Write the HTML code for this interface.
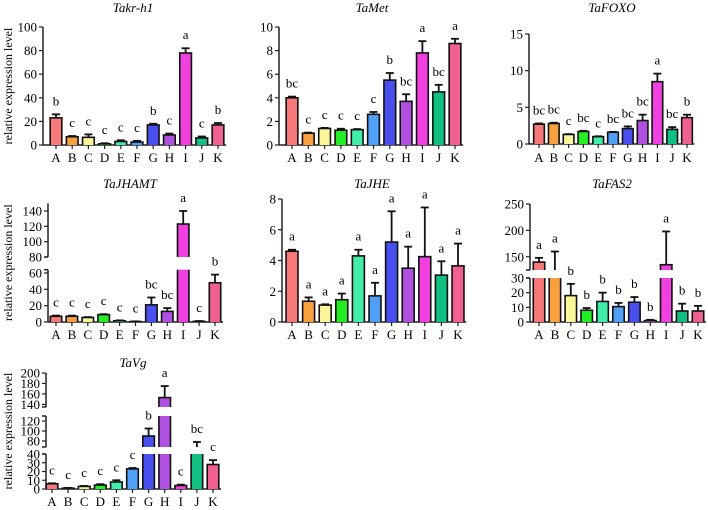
<!DOCTYPE html>
<html><head><meta charset="utf-8"><style>
body{margin:0;background:#fff;}
svg{display:block;}
text{font-family:"Liberation Serif","DejaVu Serif",serif;font-weight:400;}
</style></head><body>
<svg id="c" width="708" height="510" viewBox="0 0 708 510"></svg>
<script>
const categories=["A","B","C","D","E","F","G","H","I","J","K"];
const colors=["#f77878","#f8a040","#fbf59a","#22ee22","#40eea8","#50a0f8","#4a50f0","#b050e0","#f040e0","#10c080","#f06090"];
const titles=["Takr-h1","TaMet","TaFOXO","TaJHAMT","TaJHE","TaFAS2","TaVg"];
const takrVals=[23,7,6.5,1,3,2.5,17,8.5,78,6,17];
const takrErr=[26,7.6,9,1.5,4,3.5,18,9.7,82,7.2,18.6];
const takrLet=["b","c","c","c","c","c","b","c","a","c","b"];
const metVals=[4,1,1.4,1.25,1.3,2.6,5.5,3.7,7.8,4.5,8.6];
const metErr=[4.1,1.05,1.45,1.38,1.35,2.8,6.1,4.3,8.8,5.1,9.0];
const metLet=["bc","c","c","c","c","c","b","bc","a","bc","a"];
const foxoVals=[2.7,2.8,1.3,1.7,1.0,1.6,2.1,3.2,8.5,2.0,3.6];
const foxoErr=[2.8,2.9,1.35,1.8,1.05,1.65,2.4,4.0,9.6,2.3,4.0];
const foxoLet=["bc","bc","c","bc","c","bc","bc","bc","a","bc","b"];
const jhamtVals=[7,7,5.5,9,1.5,0.5,21,13,123,0.8,48];
const jhamtErr=[7.8,7.8,6,9.6,2,0.8,30,17,140,1.2,58];
const jhamtLet=["c","c","c","c","c","c","bc","bc","a","c","b"];
const jheVals=[4.6,1.35,1.1,1.45,4.3,1.7,5.2,3.5,4.25,3.05,3.65];
const jheErr=[4.7,1.6,1.15,1.85,4.7,2.55,7.2,4.9,7.45,3.95,5.1];
const jheLet=["a","a","a","a","a","a","a","a","a","a","a"];
const fasVals=[140,125,18,8,14,10.5,13.5,1,135,7.5,7.5];
const fasErr=[148,160,26,9.5,20,13,17,1.5,198,12.5,11];
const fasLet=["a","a","b","b","b","b","b","b","a","b","b"];
const vgVals=[6,1,3,4.5,8,23,90,153,4,65,28];
const vgErr=[6.5,1.3,3.5,5.5,10,24,105,175,5,78,33];
const vgLet=["c","c","c","c","c","c","b","a","c","bc","c"];
const tickTakr=[0,20,40,60,80,100];
const tickMet=[0,2,4,6,8,10];
const tickFoxo=[0,5,10,15];
const tickJhamtLo=[0,20,40,60];
const tickJhamtHi=[80,100,120,140];
const tickJhe=[0,2,4,6,8];
const tickFasLo=[0,10,20,30];
const tickFasHi=[150,200,250];
const tickVgLo=[0,10,20,30,40];
const tickVgMid=[80,100,120];
const tickVgHi=[140,160,180,200];

const panels=[
 {t:0,ax:43,x0:56,x1:218,tx:133,ty:12,lab:162,ylab:true,vals:takrVals,err:takrErr,let:takrLet,segs:[{lo:0,hi:100,yb:145,yt:27,ticks:tickTakr}]},
 {t:1,ax:279,x0:292,x1:455,tx:372,ty:12,lab:162,vals:metVals,err:metErr,let:metLet,segs:[{lo:0,hi:10,yb:145,yt:27,ticks:tickMet}]},
 {t:2,ax:529,x0:539,x1:687,tx:612,ty:12,lab:162,vals:foxoVals,err:foxoErr,let:foxoLet,segs:[{lo:0,hi:15,yb:144,yt:34,ticks:tickFoxo}]},
 {t:3,ax:48,x0:56,x1:215,tx:130,ty:188,lab:339,ylab:true,vals:jhamtVals,err:jhamtErr,let:jhamtLet,segs:[{lo:0,hi:64,yb:322,yt:269.7,ticks:tickJhamtLo},{lo:80,hi:150,yb:257,yt:203.3,ticks:tickJhamtHi}]},
 {t:4,ax:282,x0:292,x1:458,tx:372,ty:188,lab:339,vals:jheVals,err:jheErr,let:jheLet,segs:[{lo:0,hi:8,yb:322,yt:199,ticks:tickJhe}]},
 {t:5,ax:530,x0:539,x1:698,tx:612,ty:188,lab:339,vals:fasVals,err:fasErr,let:fasLet,segs:[{lo:0,hi:30,yb:322,yt:278,ticks:tickFasLo},{lo:125,hi:250,yb:270,yt:204,ticks:tickFasHi}]},
 {t:6,ax:46,x0:52,x1:213,tx:133,ty:367,lab:506,ylab:true,vals:vgVals,err:vgErr,let:vgLet,segs:[{lo:0,hi:40,yb:489,yt:454,ticks:tickVgLo},{lo:68,hi:130,yb:447,yt:416,ticks:tickVgMid},{lo:135,hi:200,yb:407,yt:373,ticks:tickVgHi}]}
];
const NS="http://www.w3.org/2000/svg";
const svg=document.getElementById('c');
function mk(tag,attrs,parent){const e=document.createElementNS(NS,tag);for(const k in attrs)e.setAttribute(k,attrs[k]);if(tag==='text'){e.style.fontFamily='"Liberation Serif","DejaVu Serif",serif';}(parent||svg).appendChild(e);return e;}
function ymap(s,v){return s.yb-(v-s.lo)/(s.hi-s.lo)*(s.yb-s.yt);}
panels.forEach((p,pi)=>{
 const g=mk('g',{});
 
 
 const tt=mk('text',{x:p.tx,y:p.ty,'text-anchor':'middle','font-size':13,'font-style':'italic'},g);
 tt.textContent=titles[p.t];
 
 
 if(p.ylab){
  const segTop=p.segs[p.segs.length-1].yt, segBot=p.segs[0].yb;
  const cy=(segTop+segBot)/2;
  const yl=mk('text',{x:0,y:0,transform:`translate(12,${cy}) rotate(-90)`,'text-anchor':'middle','font-size':12},g);
  yl.textContent='relative expression level';
  
  
 }
 const n=categories.length, step=(p.x1-p.x0)/(n-1), bw=step*0.72;
 const xc=i=>p.x0+i*step;
 p.segs.forEach((s,si)=>{
  const al=mk('line',{x1:p.ax,x2:p.ax,y1:s.yb,y2:s.yt,stroke:'#222','stroke-width':1.5},g);
  
  
  if(si>0) mk('line',{x1:p.ax-4,x2:p.ax,y1:s.yb,y2:s.yb,stroke:'#222','stroke-width':1.5},g);
  if(si<p.segs.length-1) mk('line',{x1:p.ax-4,x2:p.ax,y1:s.yt,y2:s.yt,stroke:'#222','stroke-width':1.5},g);
  s.ticks.forEach(tv=>{
   const y=ymap(s,tv);
   mk('line',{x1:p.ax-4,x2:p.ax,y1:y,y2:y,stroke:'#222','stroke-width':1.2},g);
   const tl=mk('text',{x:p.ax-6,y:y+4.5,'text-anchor':'end','font-size':13},g);
   tl.textContent=tv;
   
   
  });
 });
 const base=p.segs[0].yb;
 const xa=mk('line',{x1:p.ax,x2:p.x1+step/2,y1:base,y2:base,stroke:'#222','stroke-width':1.5},g);
 
 
 categories.forEach((c,i)=>{
  mk('line',{x1:xc(i),x2:xc(i),y1:base,y2:base+4,stroke:'#222','stroke-width':1.2},g);
  const xl=mk('text',{x:xc(i),y:p.lab,'text-anchor':'middle','font-size':13},g);
  xl.textContent=c;
  
  
  const v=p.vals[i], e=p.err[i];
  const L=xc(i)-bw/2, R=xc(i)+bw/2;
  p.segs.forEach((s,si)=>{
   if(v<=s.lo && si>0) return;
   const clipped=v>s.hi;
   const top=ymap(s,Math.min(v,s.hi)), bot=s.yb;
   const r=mk('rect',{x:L,y:top,width:bw,height:Math.max(bot-top,0.8),fill:colors[i],stroke:'none'},g);
   
   
   const st={stroke:'#111','stroke-width':1.6};
   mk('line',Object.assign({x1:L,x2:L,y1:top,y2:bot},st),g);
   mk('line',Object.assign({x1:R,x2:R,y1:top,y2:bot},st),g);
   if(!clipped) mk('line',Object.assign({x1:L-0.8,x2:R+0.8,y1:top,y2:top},st),g);
  });
  let es=p.segs.find(s=>e>=s.lo&&e<=s.hi)||p.segs[p.segs.length-1];
  const ey=ymap(es,e), vy=ymap(es,Math.max(v,es.lo));
  mk('line',{x1:xc(i),x2:xc(i),y1:vy,y2:ey,stroke:'#111','stroke-width':1.8},g);
  const cap=mk('line',{x1:xc(i)-4,x2:xc(i)+4,y1:ey,y2:ey,stroke:'#111','stroke-width':1.8},g);
  
  
  const lt=mk('text',{x:xc(i),y:ey-9,'text-anchor':'middle','font-size':13},g);
  lt.textContent=p.let[i];
  
  
 });
});
</script>
</body></html>
